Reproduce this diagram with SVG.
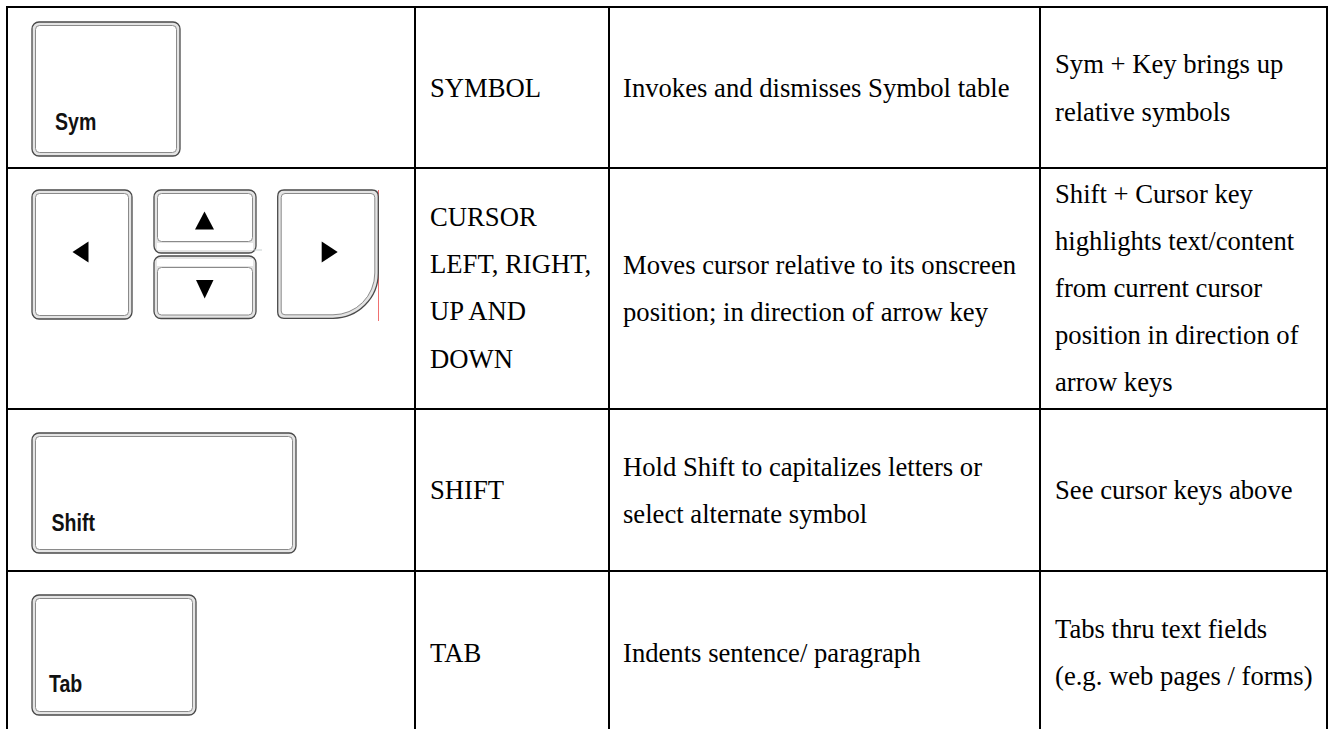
<svg xmlns="http://www.w3.org/2000/svg" width="1332" height="729" viewBox="0 0 1332 729">
<style>
.grid{stroke:#000;stroke-width:2;fill:none}
.t{font-family:"Liberation Serif","Times New Roman",serif;font-size:26.67px;fill:#000}
.ko{fill:#e4e4e4;stroke:#4a4a4a;stroke-width:1.3}
.ki{fill:#fff;stroke:#8a8a8a;stroke-width:1}
.kl{font-family:"Liberation Sans",Arial,sans-serif;font-weight:bold;font-size:23px;fill:#111}
.ar{fill:#000}
</style>
<rect width="1332" height="729" fill="#fff"/>
<g id="grid" class="grid">
<line x1="6" y1="7" x2="1328" y2="7"/>
<line x1="6" y1="168" x2="1328" y2="168"/>
<line x1="6" y1="409" x2="1328" y2="409"/>
<line x1="6" y1="571" x2="1328" y2="571"/>
<line x1="7" y1="6" x2="7" y2="729"/>
<line x1="415" y1="6" x2="415" y2="729"/>
<line x1="609" y1="6" x2="609" y2="729"/>
<line x1="1040" y1="6" x2="1040" y2="729"/>
<line x1="1327" y1="6" x2="1327" y2="729"/>
</g>
<g id="key-sym">
<rect class="ko" x="32" y="22" width="148" height="134" rx="7"/>
<rect class="ki" x="35.5" y="25.5" width="141" height="127" rx="4"/>
<text class="kl" transform="translate(55,130) scale(0.85,1)">Sym</text>
</g>
<g id="keys-cursor">
<line x1="378.5" y1="190" x2="378.5" y2="321" stroke="#f07070" stroke-width="1"/>
<rect class="ko" x="32" y="190" width="100" height="129" rx="7"/>
<rect class="ki" x="35.5" y="193.5" width="93" height="122" rx="4"/>
<polygon class="ar" points="72.5,252 88.5,241.5 88.5,262.5"/>
<rect class="ko" x="154" y="190" width="102" height="63" rx="7"/>
<rect class="ki" x="157.5" y="193.5" width="95" height="48" rx="4"/>
<rect x="157" y="243" width="96" height="7" fill="#fff"/>
<polygon class="ar" points="204.5,211.5 195,229.5 214,229.5"/>
<line x1="254" y1="250" x2="262" y2="250" stroke="#c8d0d0" stroke-width="1"/>
<rect class="ko" x="154" y="256" width="102" height="62.5" rx="7"/>
<rect class="ki" x="157.5" y="267.5" width="95" height="47.5" rx="4"/>
<rect x="157" y="259" width="96" height="7" fill="#fff"/>
<polygon class="ar" points="196,280 213.5,280 204.7,298.5"/>
<path class="ko" d="M284,190 H372 Q378.3,190 378.3,196.5 V273 A45.3,45.3 0 0 1 333,318.3 H284 Q277.7,318.3 277.7,312 V196.5 Q277.7,190 284,190 Z"/>
<path class="ki" d="M285,193.5 H371 Q374.8,193.5 374.8,197.5 V273 A41.8,41.8 0 0 1 333,314.8 H285 Q281.2,314.8 281.2,311 V197.5 Q281.2,193.5 285,193.5 Z"/>
<polygon class="ar" points="321.7,241.5 321.7,262.5 337.7,252"/>
</g>
<g id="key-shift">
<rect class="ko" x="32" y="433" width="264" height="120" rx="7"/>
<rect class="ki" x="35.5" y="436.5" width="257" height="113" rx="4"/>
<text class="kl" transform="translate(51.5,531) scale(0.85,1)">Shift</text>
</g>
<g id="key-tab">
<rect class="ko" x="32" y="595" width="164" height="120" rx="7"/>
<rect class="ki" x="35.5" y="598.5" width="157" height="113" rx="4"/>
<text class="kl" transform="translate(49,692) scale(0.85,1)">Tab</text>
</g>
<g id="row-symbol">
<text class="t" x="430" y="97">SYMBOL</text>
<text class="t" x="623" y="97">Invokes and dismisses Symbol table</text>
<text class="t" x="1055" y="73">Sym + Key brings up</text>
<text class="t" x="1055" y="121">relative symbols</text>
</g>
<g id="row-cursor">
<text class="t" x="430" y="226">CURSOR</text>
<text class="t" x="430" y="273">LEFT, RIGHT,</text>
<text class="t" x="430" y="320">UP AND</text>
<text class="t" x="430" y="368">DOWN</text>
<text class="t" x="623" y="274">Moves cursor relative to its onscreen</text>
<text class="t" x="623" y="321">position; in direction of arrow key</text>
<text class="t" x="1055" y="203">Shift + Cursor key</text>
<text class="t" x="1055" y="250">highlights text/content</text>
<text class="t" x="1055" y="297">from current cursor</text>
<text class="t" x="1055" y="344">position in direction of</text>
<text class="t" x="1055" y="391">arrow keys</text>
</g>
<g id="row-shift">
<text class="t" x="430" y="499">SHIFT</text>
<text class="t" x="623" y="476">Hold Shift to capitalizes letters or</text>
<text class="t" x="623" y="523">select alternate symbol</text>
<text class="t" x="1055" y="499">See cursor keys above</text>
</g>
<g id="row-tab">
<text class="t" x="430" y="662">TAB</text>
<text class="t" x="623" y="662">Indents sentence/ paragraph</text>
<text class="t" x="1055" y="638">Tabs thru text fields</text>
<text class="t" x="1055" y="685">(e.g. web pages / forms)</text>
</g>
</svg>
